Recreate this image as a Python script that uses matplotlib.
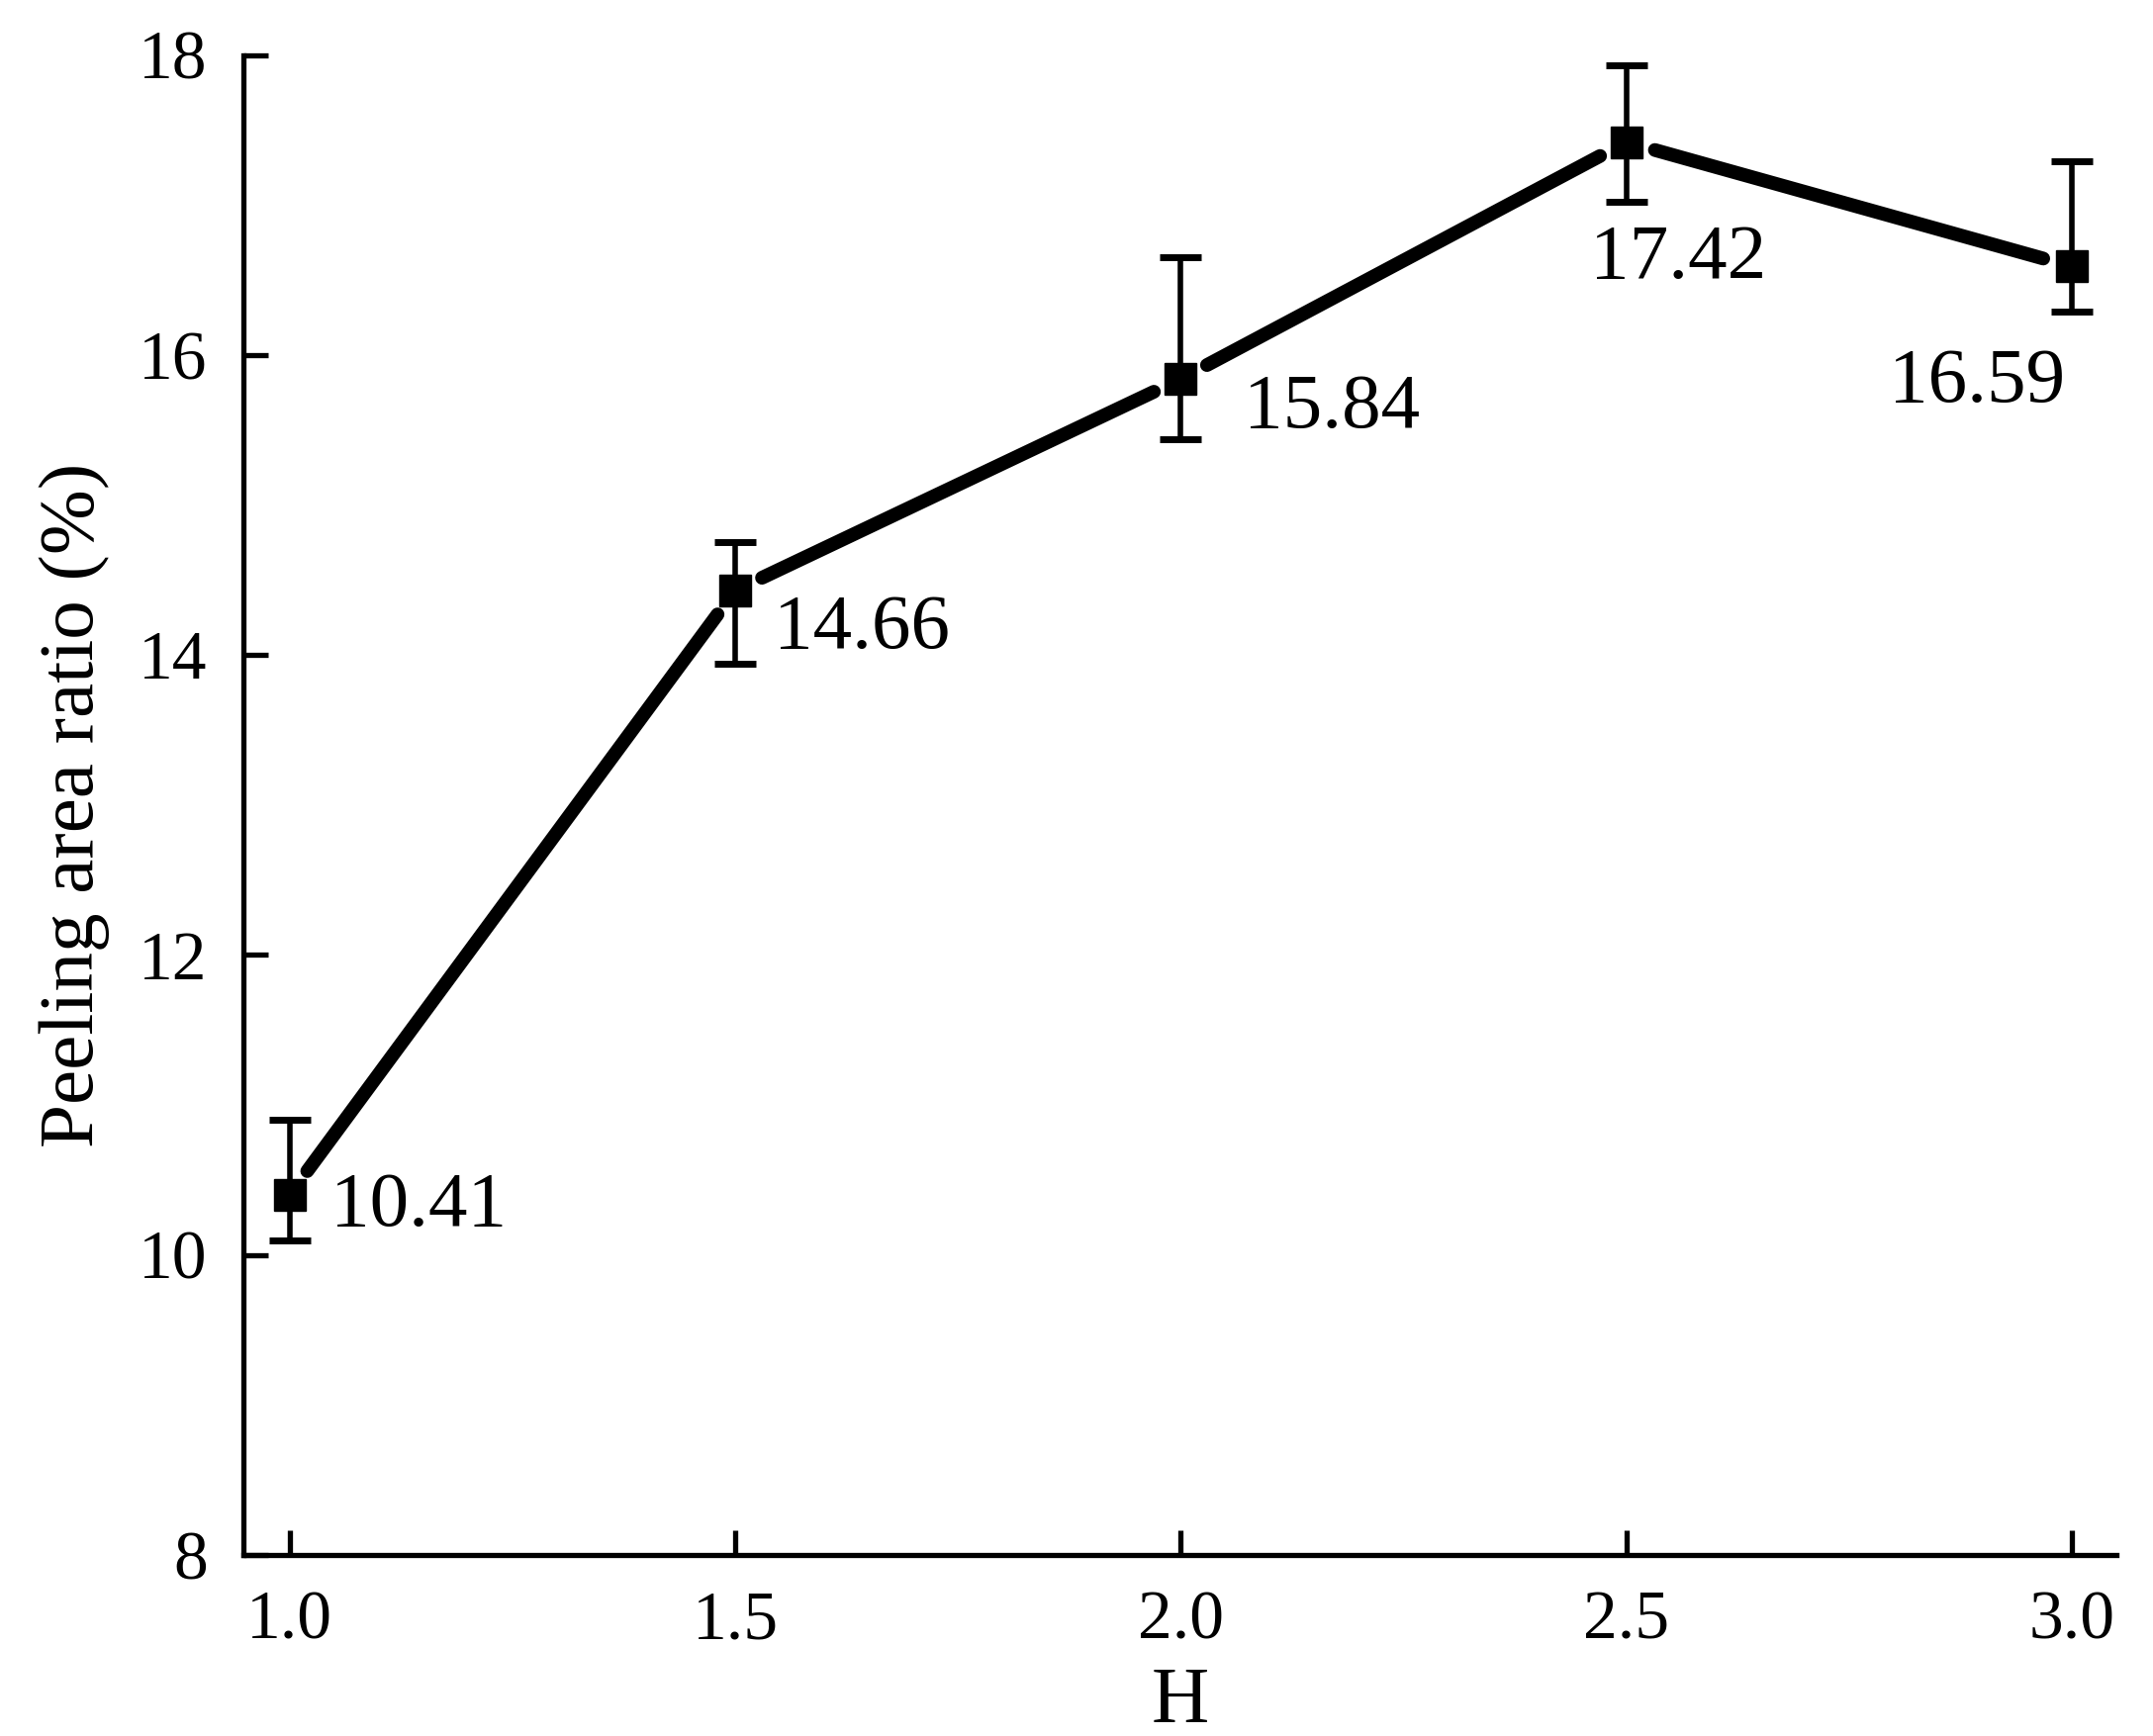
import os
import numpy as np
import matplotlib
matplotlib.use("Agg")
import matplotlib.pyplot as plt
from matplotlib.font_manager import FontProperties

# Times-like font, taken straight from its file
serif_file = '/usr/share/fonts/truetype/liberation/LiberationSerif-Regular.ttf'


def tfont(size):
    if os.path.exists(serif_file):
        return FontProperties(fname=serif_file, size=size)
    return FontProperties(family=['Liberation Serif', 'STIXGeneral', 'DejaVu Serif'], size=size)


# data
h_values = [1.0, 1.5, 2.0, 2.5, 3.0]
ratio = [10.40, 14.43, 15.84, 17.42, 16.59]
err_low = [0.30, 0.49, 0.40, 0.40, 0.30]
err_high = [0.50, 0.32, 0.81, 0.51, 0.70]
point_labels = ['10.41', '14.66', '15.84', '17.42', '16.59']
x_ticks = [1.0, 1.5, 2.0, 2.5, 3.0]
y_ticks = [8, 10, 12, 14, 16, 18]

# label offsets in points (dx, dy) and horizontal alignment
label_offsets = [(30, -22, 'left'), (28, -42, 'left'), (46, -35, 'left'),
                 (38, -99, 'center'), (-69, -98, 'center')]

fig = plt.figure(figsize=(21.76, 17.55), dpi=100)
ax = fig.add_axes([0.113, 0.1043, 0.870, 0.864])
ax.set_xlim(0.948, 3.05)
ax.set_ylim(8, 18)

# line with a gap around each symbol (like Origin)
gap_px = 30
pts = ax.transData.transform(np.column_stack([h_values, ratio]))
inv = ax.transData.inverted()
for i in range(len(pts) - 1):
    p0, p1 = pts[i], pts[i + 1]
    u = (p1 - p0) / np.linalg.norm(p1 - p0)
    seg = inv.transform(np.vstack([p0 + u * gap_px, p1 - u * gap_px]))
    ax.plot(seg[:, 0], seg[:, 1], color='black', lw=10,
            solid_capstyle='round', zorder=2)

ax.errorbar(h_values, ratio, yerr=[err_low, err_high], fmt='none',
            ecolor='black', elinewidth=4, capsize=15, capthick=5, zorder=3)
ax.plot(h_values, ratio, linestyle='none', marker='s', markersize=23,
        color='black', zorder=4)

for x, y, txt, (dx, dy, ha) in zip(h_values, ratio, point_labels, label_offsets):
    ax.annotate(txt, (x, y), xytext=(dx, dy), textcoords='offset points',
                ha=ha, va='baseline', fontproperties=tfont(57))

ax.spines['top'].set_visible(False)
ax.spines['right'].set_visible(False)
for s in ['left', 'bottom']:
    ax.spines[s].set_linewidth(3.8)

ax.set_xticks(x_ticks)
ax.set_xticklabels([f'{v:.1f}' for v in x_ticks])
ax.set_yticks(y_ticks)
ax.tick_params(direction='in', length=18, width=3.8, pad=26)
for lab in ax.get_xticklabels() + ax.get_yticklabels():
    lab.set_fontproperties(tfont(50))

ax.set_xlabel('H', fontproperties=tfont(58), labelpad=10)
ax.set_ylabel('Peeling area ratio (%)', fontproperties=tfont(57), labelpad=21)

fig.savefig('out.png', dpi=100)
